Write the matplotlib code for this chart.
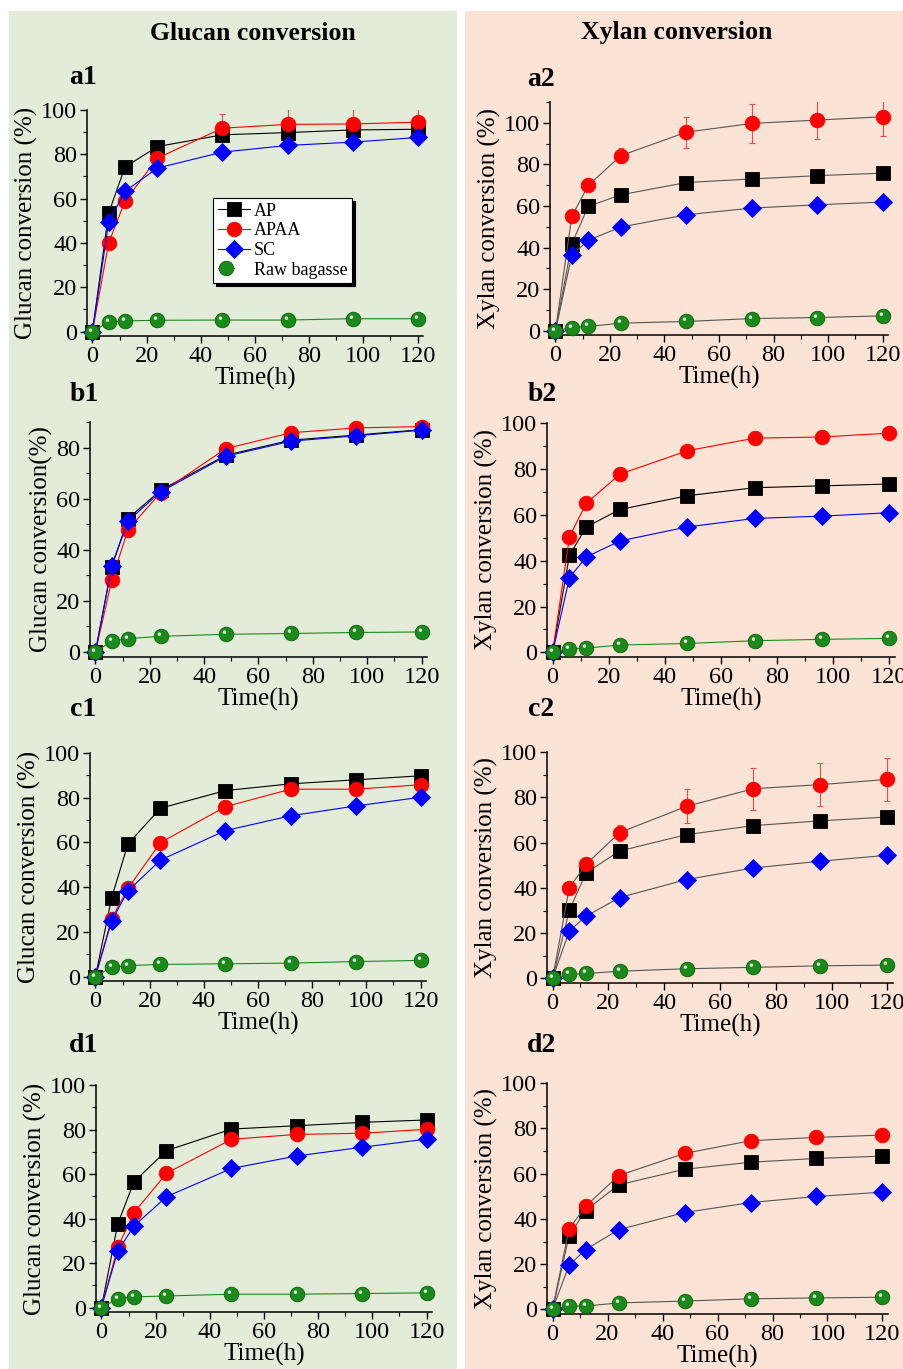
import numpy as np
import matplotlib
matplotlib.use("Agg")
import matplotlib.pyplot as plt
from matplotlib.patches import Rectangle
from matplotlib.path import Path
from matplotlib.legend_handler import HandlerTuple
from matplotlib.ticker import MultipleLocator

plt.rcParams['font.family'] = ['Liberation Serif', 'DejaVu Serif']
plt.rcParams['mathtext.fontset'] = 'stix'

# Zeit (h)
time = [0, 6, 12, 24, 48, 72, 96, 120]
series_names = ['AP', 'APAA', 'SC', 'Raw bagasse']

# a1 - Glucan
a1_ap = [0, 53.5, 74.2, 83.5, 88.8, 89.8, 91.0, 91.3]
a1_apaa = [0, 40.0, 58.8, 78.3, 91.8, 93.5, 93.7, 94.5]
a1_apaa_err = [0, 0, 0, 0, 6.3, 7.0, 7.0, 6.0]
a1_sc = [0, 49.3, 63.3, 73.8, 81.0, 84.0, 85.5, 87.6]
a1_raw = [0, 4.3, 4.8, 5.1, 5.2, 5.2, 5.8, 5.8]

# a2 - Xylan
a2_ap = [0, 41.8, 59.8, 65.4, 71.3, 73.0, 74.6, 75.8]
a2_apaa = [0, 55.0, 69.9, 84.2, 95.5, 99.7, 101.3, 102.9]
a2_apaa_err = [0, 0, 0, 3.5, 7.5, 9.5, 9.3, 9.3]
a2_sc = [0, 36.4, 43.5, 49.9, 55.8, 59.0, 60.6, 61.9]
a2_raw = [0, 1.6, 2.1, 3.7, 4.5, 5.9, 6.4, 7.2]

# b1 - Glucan
b1_ap = [0, 33.3, 52.2, 63.3, 77.0, 82.9, 84.9, 87.0]
b1_apaa = [0, 28.0, 47.9, 62.3, 79.6, 85.8, 87.7, 88.2]
b1_sc = [0, 33.7, 51.3, 62.7, 76.6, 82.5, 84.6, 86.8]
b1_raw = [0, 4.2, 5.2, 6.1, 6.9, 7.2, 7.6, 7.8]

# b2 - Xylan
b2_ap = [0, 42.3, 54.7, 62.3, 68.3, 71.8, 72.6, 73.4]
b2_apaa = [0, 50.4, 65.0, 77.7, 87.9, 93.4, 93.9, 95.6]
b2_sc = [0, 32.6, 41.6, 48.6, 54.7, 58.4, 59.4, 60.9]
b2_raw = [0, 1.5, 1.9, 3.2, 3.9, 5.1, 5.7, 6.1]

# c1 - Glucan
c1_ap = [0, 35.3, 59.3, 75.3, 83.2, 86.2, 88.0, 89.8]
c1_apaa = [0, 25.9, 39.4, 59.9, 76.0, 83.8, 83.8, 85.8]
c1_sc = [0, 24.9, 38.3, 52.1, 65.3, 71.9, 76.3, 80.2]
c1_raw = [0, 4.2, 4.9, 5.4, 5.7, 6.0, 6.7, 7.2]

# c2 - Xylan
c2_ap = [0, 30.1, 46.6, 56.3, 63.5, 67.5, 69.6, 71.3]
c2_apaa = [0, 40.1, 50.4, 64.4, 76.0, 83.8, 85.6, 87.9]
c2_apaa_err = [0, 0, 0, 3.5, 7.5, 9.2, 9.6, 9.4]
c2_sc = [0, 21.0, 27.5, 35.7, 43.7, 48.8, 51.8, 54.4]
c2_raw = [0, 1.8, 2.2, 3.2, 4.3, 4.9, 5.6, 5.9]

# d1 - Glucan
d1_ap = [0, 37.5, 56.5, 70.5, 80.2, 81.7, 83.2, 84.3]
d1_apaa = [0, 27.0, 42.6, 60.3, 75.6, 77.8, 78.3, 80.1]
d1_sc = [0, 25.3, 36.6, 49.8, 62.5, 68.1, 72.0, 75.7]
d1_raw = [0, 4.0, 4.8, 5.2, 6.0, 6.0, 6.3, 6.6]

# d2 - Xylan
d2_ap = [0, 32.3, 43.7, 55.0, 61.9, 65.0, 66.7, 67.7]
d2_apaa = [0, 35.5, 45.5, 59.1, 68.9, 74.5, 76.0, 77.0]
d2_sc = [0, 19.5, 26.4, 35.2, 42.8, 47.2, 49.9, 51.8]
d2_raw = [0, 1.5, 1.5, 2.9, 3.7, 4.7, 5.1, 5.4]

W, H = 904, 1369
fig = plt.figure(figsize=(W / 100, H / 100), dpi=100)
fig.patch.set_facecolor('white')

# Hintergrundflaechen
fig.patches.append(Rectangle((9 / W, 0), 448 / W, 1 - 11 / H, transform=fig.transFigure,
                             facecolor='#e2ecd8', edgecolor='none', zorder=-5))
fig.patches.append(Rectangle((465 / W, 0), 439 / W, 1 - 11 / H, transform=fig.transFigure,
                             facecolor='#fbe4d5', edgecolor='none', zorder=-5))

fig.text(253 / W, 1 - 33 / H, 'Glucan conversion', ha='center', va='center',
         fontsize=18.5, fontweight='bold')
fig.text(677 / W, 1 - 33 / H, 'Xylan conversion', ha='center', va='center',
         fontsize=18.5, fontweight='bold')

# Glanzpunkt fuer die gruenen Kugeln
hl_path = Path.make_compound_path(Path([(1, 1)], [Path.MOVETO]),
                                  Path.circle((-0.28, 0.32), 0.24))

panels = [
    # name, rect(l,t,r,b px), ytop, data, err, gray lines, ylabel, label pos
    ('a1', (87, 110, 423, 336), 100, (a1_ap, a1_apaa, a1_sc, a1_raw), a1_apaa_err, False,
     'Glucan conversion (%)', (83, 78)),
    ('a2', (550, 102, 888, 335), 110, (a2_ap, a2_apaa, a2_sc, a2_raw), a2_apaa_err, True,
     'Xylan conversion (%)', (541, 80)),
    ('b1', (90, 422, 427, 657), 90, (b1_ap, b1_apaa, b1_sc, b1_raw), None, False,
     'Glucan conversion(%)', (84, 395)),
    ('b2', (547, 423, 895, 657), 100, (b2_ap, b2_apaa, b2_sc, b2_raw), None, False,
     'Xylan conversion (%)', (542, 395)),
    ('c1', (90, 753, 426, 981), 100, (c1_ap, c1_apaa, c1_sc, c1_raw), None, False,
     'Glucan conversion (%)', (83, 710)),
    ('c2', (547, 752, 893, 983), 100, (c2_ap, c2_apaa, c2_sc, c2_raw), c2_apaa_err, True,
     'Xylan conversion (%)', (541, 710)),
    ('d1', (96, 1085, 432, 1312), 100, (d1_ap, d1_apaa, d1_sc, d1_raw), None, False,
     'Glucan conversion (%)', (84, 1045)),
    ('d2', (547, 1083, 888, 1314), 100, (d2_ap, d2_apaa, d2_sc, d2_raw), None, True,
     'Xylan conversion (%)', (542, 1045)),
]

colors = ['black', '#ff0000', '#0000ff', '#1a8a1a']
markers = ['s', 'o', 'D', 'o']
msizes = [9.5, 10.5, 9.5, 10.5]

for name, (l, t, r, b), ytop, data, err, gray, ylab, (lx, ly) in panels:
    ax = fig.add_axes([l / W, 1 - b / H, (r - l) / W, (b - t) / H])
    ax.set_facecolor('none')
    handles = []
    for i, ys in enumerate(data):
        lc = '#555555' if gray else colors[i]
        mec = '#0b5e0b' if i == 3 else colors[i]
        ln, = ax.plot(time, ys, color=lc, lw=0.8, marker=markers[i], ms=msizes[i],
                      mfc=colors[i], mec=mec, mew=0.6, zorder=3 + i, clip_on=False)
        if i == 1 and err is not None:
            ax.errorbar(time, ys, yerr=err, fmt='none', ecolor='#e05050', elinewidth=0.8,
                        capsize=2.5, capthick=0.8, zorder=2)
        if i == 3:
            hl, = ax.plot(time, ys, ls='none', marker=hl_path, ms=msizes[i], mfc='white',
                          mec='none', alpha=0.85, zorder=8, clip_on=False)
            handles.append((ln, hl))
        else:
            handles.append(ln)

    ax.set_xlim(-2, 122)
    ax.set_ylim(-2, ytop)
    ax.xaxis.set_major_locator(MultipleLocator(20))
    ax.xaxis.set_minor_locator(MultipleLocator(10))
    ax.yaxis.set_major_locator(MultipleLocator(20))
    ax.yaxis.set_minor_locator(MultipleLocator(10))
    for s in ['top', 'right']:
        ax.spines[s].set_visible(False)
    for s in ['left', 'bottom']:
        ax.spines[s].set_linewidth(1.1)
    ax.tick_params(which='major', direction='out', length=5, width=1, labelsize=17.5, pad=2)
    ax.tick_params(which='minor', direction='out', length=3, width=0.8)
    ax.set_xlabel('Time(h)', fontsize=18, labelpad=0)
    ax.set_ylabel(ylab, fontsize=18, labelpad=2)
    fig.text(lx / W, 1 - ly / H, name, ha='center', va='center', fontsize=20,
             fontweight='bold')

    if name == 'a1':
        leg = ax.legend(handles, series_names, loc='upper left', bbox_to_anchor=(0.375, 0.61),
                        fontsize=13, frameon=True, fancybox=False, shadow={'color': 'black', 'alpha': 1},
                        edgecolor='black', framealpha=1, handlelength=1.8, handletextpad=0.2,
                        borderpad=0.25, labelspacing=0.15, borderaxespad=0,
                        handler_map={tuple: HandlerTuple(ndivide=None, pad=0)})
        leg.get_frame().set_linewidth(0.8)
        leg.set_zorder(20)

fig.savefig('out.png', dpi=100)
